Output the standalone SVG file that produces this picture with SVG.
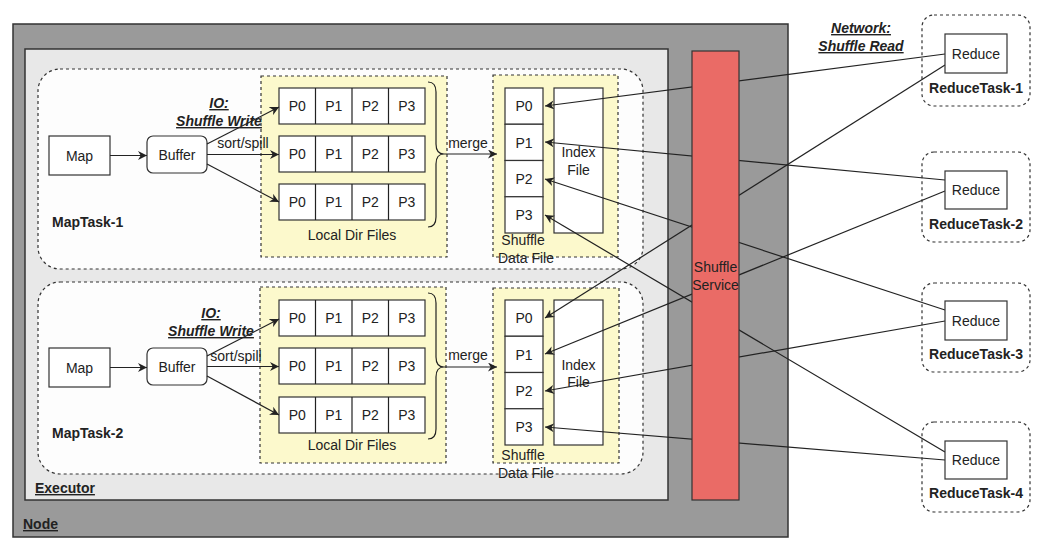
<svg xmlns="http://www.w3.org/2000/svg" width="1044" height="545" viewBox="0 0 1044 545">
<style>
text{font-family:"Liberation Sans",Arial,sans-serif;fill:#222}
.t{font-size:14px;text-anchor:middle}
.b{font-weight:bold}
.bi{font-weight:bold;font-style:italic;text-decoration:underline;font-size:14px;text-anchor:middle}
.box{fill:#fff;stroke:#333;stroke-width:1.2}
.dash{stroke:#333;stroke-width:1.2;stroke-dasharray:3 3}
.yel{fill:#fcf9cc;stroke:#333;stroke-width:1.2;stroke-dasharray:3 3}
.ln{fill:none;stroke:#222;stroke-width:1.2}
</style>
<defs>
<marker id="ah" viewBox="0 0 10 10" refX="10" refY="5" markerWidth="9" markerHeight="9" markerUnits="userSpaceOnUse" orient="auto">
<path d="M0,0 L10,5 L0,10 L3,5 z" fill="#222"/>
</marker>
</defs>
<rect width="1044" height="545" fill="#fff"/>
<g id="node">
<rect x="13" y="24" width="775" height="513" fill="#9a9a9a" stroke="#333" stroke-width="1.5"/>
<text x="23" y="529" class="b" font-size="14" text-decoration="underline">Node</text>
</g>
<g id="executor">
<rect x="25" y="49" width="643" height="451" fill="#e8e8e8" stroke="#333" stroke-width="1.5"/>
<text x="35" y="493" class="b" font-size="14" text-decoration="underline">Executor</text>
</g>
<g id="maptask-1">
<rect x="38" y="69" width="605" height="200" rx="22" class="dash" fill="#fdfdfd"/>
<text x="52" y="227" class="b" font-size="14">MapTask-1</text>
</g>
<g id="maptask-2">
<rect x="38" y="282" width="605" height="192" rx="22" class="dash" fill="#fdfdfd"/>
<text x="52" y="438" class="b" font-size="14">MapTask-2</text>
</g>
<g id="map-1"><rect x="49" y="136" width="61" height="39" class="box"/><text x="79.5" y="160.5" class="t">Map</text></g>
<g id="buffer-1"><rect x="147" y="136" width="60" height="37" rx="6" class="box"/><text x="177" y="159.5" class="t">Buffer</text></g>
<g id="map-2"><rect x="49" y="348" width="61" height="39" class="box"/><text x="79.5" y="372.5" class="t">Map</text></g>
<g id="buffer-2"><rect x="147" y="348" width="60" height="37" rx="6" class="box"/><text x="177" y="371.5" class="t">Buffer</text></g>

<g id="localdir-1">
<rect x="261" y="76" width="186" height="181" class="yel"/>
<g id="ld1-row1"><rect x="279" y="88" width="146" height="36" class="box"/><path d="M315.5,88v36M352,88v36M388.5,88v36" class="ln"/>
<text x="297.25" y="111" class="t">P0</text><text x="333.75" y="111" class="t">P1</text><text x="370.25" y="111" class="t">P2</text><text x="406.75" y="111" class="t">P3</text></g>
<g id="ld1-row2"><rect x="279" y="136" width="146" height="36" class="box"/><path d="M315.5,136v36M352,136v36M388.5,136v36" class="ln"/>
<text x="297.25" y="159" class="t">P0</text><text x="333.75" y="159" class="t">P1</text><text x="370.25" y="159" class="t">P2</text><text x="406.75" y="159" class="t">P3</text></g>
<g id="ld1-row3"><rect x="279" y="184" width="146" height="36" class="box"/><path d="M315.5,184v36M352,184v36M388.5,184v36" class="ln"/>
<text x="297.25" y="207" class="t">P0</text><text x="333.75" y="207" class="t">P1</text><text x="370.25" y="207" class="t">P2</text><text x="406.75" y="207" class="t">P3</text></g>
<text x="352" y="240" class="t">Local Dir Files</text>
<path d="M428,82 Q436,82 436,92 L436,144 Q436,154 444,154 Q436,154 436,164 L436,217 Q436,227 428,227" class="ln"/>
</g>

<g id="localdir-2">
<rect x="260" y="287" width="186" height="176" class="yel"/>
<g id="ld2-row1"><rect x="279" y="300" width="146" height="36" class="box"/><path d="M315.5,300v36M352,300v36M388.5,300v36" class="ln"/>
<text x="297.25" y="323" class="t">P0</text><text x="333.75" y="323" class="t">P1</text><text x="370.25" y="323" class="t">P2</text><text x="406.75" y="323" class="t">P3</text></g>
<g id="ld2-row2"><rect x="279" y="348" width="146" height="36" class="box"/><path d="M315.5,348v36M352,348v36M388.5,348v36" class="ln"/>
<text x="297.25" y="371" class="t">P0</text><text x="333.75" y="371" class="t">P1</text><text x="370.25" y="371" class="t">P2</text><text x="406.75" y="371" class="t">P3</text></g>
<g id="ld2-row3"><rect x="279" y="397" width="146" height="36" class="box"/><path d="M315.5,397v36M352,397v36M388.5,397v36" class="ln"/>
<text x="297.25" y="420" class="t">P0</text><text x="333.75" y="420" class="t">P1</text><text x="370.25" y="420" class="t">P2</text><text x="406.75" y="420" class="t">P3</text></g>
<text x="352" y="450" class="t">Local Dir Files</text>
<path d="M428,293 Q436,293 436,303 L436,357 Q436,367 444,367 Q436,367 436,377 L436,429 Q436,439 428,439" class="ln"/>
</g>

<g id="datafile-1">
<rect x="493" y="75" width="125" height="182" class="yel"/>
<rect x="505" y="88" width="38" height="36.25" class="box"/><text x="524" y="111" class="t">P0</text>
<rect x="505" y="124.25" width="38" height="36.25" class="box"/><text x="524" y="147.5" class="t">P1</text>
<rect x="505" y="160.5" width="38" height="36.25" class="box"/><text x="524" y="183.5" class="t">P2</text>
<rect x="505" y="196.75" width="38" height="36.25" class="box"/><text x="524" y="220" class="t">P3</text>
<rect x="554" y="88" width="49" height="145" class="box"/>
<text x="578.5" y="157" class="t">Index</text><text x="578.5" y="175" class="t">File</text>
<text x="523" y="245" class="t">Shuffle</text><text x="526" y="263" class="t">Data File</text>
</g>

<g id="datafile-2">
<rect x="493" y="288" width="126" height="175" class="yel"/>
<rect x="505" y="300" width="38" height="36.25" class="box"/><text x="524" y="323" class="t">P0</text>
<rect x="505" y="336.25" width="38" height="36.25" class="box"/><text x="524" y="359.5" class="t">P1</text>
<rect x="505" y="372.5" width="38" height="36.25" class="box"/><text x="524" y="395.5" class="t">P2</text>
<rect x="505" y="408.75" width="38" height="36.25" class="box"/><text x="524" y="432" class="t">P3</text>
<rect x="554" y="300" width="49" height="145" class="box"/>
<text x="578.5" y="370" class="t">Index</text><text x="578.5" y="387" class="t">File</text>
<text x="523" y="460" class="t">Shuffle</text><text x="526" y="478" class="t">Data File</text>
</g>

<g id="labels">
<text x="219" y="108" class="bi">IO:</text>
<text x="219" y="126" class="bi">Shuffle Write</text>
<text x="243" y="148" class="t">sort/spill</text>
<text x="211" y="318" class="bi">IO:</text>
<text x="211" y="336" class="bi">Shuffle Write</text>
<text x="236" y="361" class="t">sort/spill</text>
<text x="468" y="148" class="t">merge</text>
<text x="468" y="360" class="t">merge</text>
<text x="861" y="33" class="bi">Network:</text>
<text x="861" y="51" class="bi">Shuffle Read</text>
</g>

<g id="connectors">
<path d="M110,155.5H147" class="ln" marker-end="url(#ah)"/>
<path d="M207,144L279,107" class="ln" marker-end="url(#ah)"/>
<path d="M207,154.5H279" class="ln" marker-end="url(#ah)"/>
<path d="M207,164L279,202" class="ln" marker-end="url(#ah)"/>
<path d="M444,154H497" class="ln" marker-end="url(#ah)"/>
<path d="M110,367.5H147" class="ln" marker-end="url(#ah)"/>
<path d="M207,356L279,319" class="ln" marker-end="url(#ah)"/>
<path d="M207,366.5H279" class="ln" marker-end="url(#ah)"/>
<path d="M207,376L279,415" class="ln" marker-end="url(#ah)"/>
<path d="M444,367H497" class="ln" marker-end="url(#ah)"/>
<path d="M945,54L545,106" class="ln" marker-end="url(#ah)"/>
<path d="M945,65L545,318" class="ln" marker-end="url(#ah)"/>
<path d="M945,180L545,142" class="ln" marker-end="url(#ah)"/>
<path d="M945,191L545,354" class="ln" marker-end="url(#ah)"/>
<path d="M945,310L545,179" class="ln" marker-end="url(#ah)"/>
<path d="M945,321L545,391" class="ln" marker-end="url(#ah)"/>
<path d="M945,452L545,215" class="ln" marker-end="url(#ah)"/>
<path d="M945,460L545,427" class="ln" marker-end="url(#ah)"/>
</g>

<g id="shuffle-service">
<rect x="692" y="51" width="47" height="449" fill="#ea6b66" stroke="#333" stroke-width="1.2"/>
<text x="715.5" y="272" class="t" fill="#300">Shuffle</text>
<text x="715.5" y="290" class="t" fill="#300">Service</text>
</g>

<g id="reducetask-1">
<rect x="922" y="15" width="108" height="91" rx="12" class="dash" fill="none"/>
<rect x="945" y="34" width="62" height="39" class="box"/><text x="976" y="58.5" class="t">Reduce</text>
<text x="976" y="93" class="t b" font-size="13">ReduceTask-1</text>
</g>
<g id="reducetask-2">
<rect x="922" y="152" width="108" height="90" rx="12" class="dash" fill="none"/>
<rect x="945" y="171" width="62" height="38" class="box"/><text x="976" y="195" class="t">Reduce</text>
<text x="976" y="229" class="t b" font-size="13">ReduceTask-2</text>
</g>
<g id="reducetask-3">
<rect x="922" y="283" width="108" height="89" rx="12" class="dash" fill="none"/>
<rect x="945" y="301" width="62" height="39" class="box"/><text x="976" y="325.5" class="t">Reduce</text>
<text x="976" y="359" class="t b" font-size="13">ReduceTask-3</text>
</g>
<g id="reducetask-4">
<rect x="922" y="422" width="108" height="90" rx="12" class="dash" fill="none"/>
<rect x="945" y="441" width="62" height="38" class="box"/><text x="976" y="465" class="t">Reduce</text>
<text x="976" y="498" class="t b" font-size="13">ReduceTask-4</text>
</g>
</svg>
